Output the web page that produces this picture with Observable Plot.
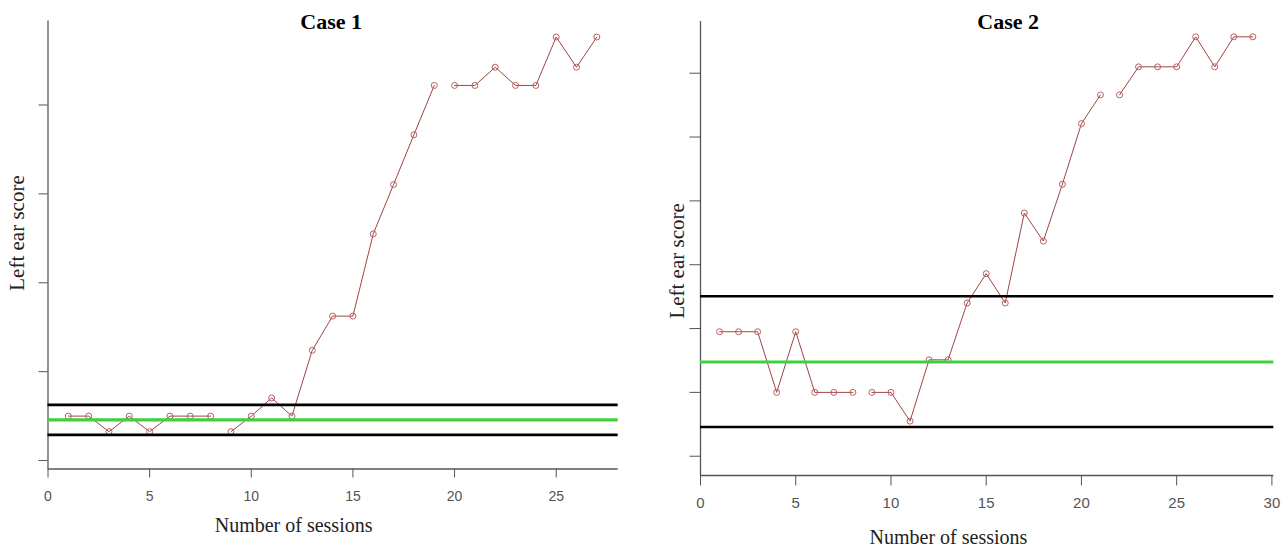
<!DOCTYPE html>
<html>
<head>
<meta charset="utf-8">
<script src="https://cdn.jsdelivr.net/npm/d3@7"></script>
<script src="https://cdn.jsdelivr.net/npm/@observablehq/plot@0.6"></script>
<style>
  html, body { margin: 0; padding: 0; background: #fff; }
  #wrap { display: flex; width: 1286px; height: 553px; overflow: hidden; }
  #wrap svg { display: block; }
</style>
</head>
<body>
<div id="wrap"></div>
<script>
// ---- Case 1 data ----
const case1Sessions = [1,2,3,4,5,6,7,8,9,10,11,12,13,14,15,16,17,18,19,20,21,22,23,24,25,26,27];
const case1Scores   = [10,10,6.5,10,6.5,10,10,10,6.5,10,14.1,10,24.8,32.5,32.5,51,62.1,73.3,84.4,84.4,84.4,88.5,84.4,84.4,95.3,88.5,95.3];
const case1Breaks   = [8, 19];          // the line is interrupted after these sessions
const case1Mean     = [9.16];
const case1Limits   = [12.53, 5.78];
const case1XTicks   = [0,5,10,15,20,25];
const case1YTicks   = [0,20,40,60,80];
const case1XDomain  = [0, 28.05];
const case1YDomain  = [-1.9, 98.9];

// ---- Case 2 data ----
const case2Sessions = [1,2,3,4,5,6,7,8,9,10,11,12,13,14,15,16,17,18,19,20,21,22,23,24,25,26,27,28,29];
const case2Scores   = [19.5,19.5,19.5,10,19.5,10,10,10,10,10,5.5,15.1,15.1,24,28.6,24,38.1,33.7,42.6,52.1,56.6,56.6,61,61,61,65.7,61,65.7,65.7];
const case2Breaks   = [8, 21];
const case2Mean     = [14.76];
const case2Limits   = [25.06, 4.58];
const case2XTicks   = [0,5,10,15,20,25,30];
const case2YTicks   = [0,10,20,30,40,50,60];
const case2XDomain  = [0, 30.1];
const case2YDomain  = [-3.02, 68.1];

const titles = ["Case 1", "Case 2"];
const xLabel = "Number of sessions";
const yLabel = "Left ear score";

function panel(o) {
  const rows = o.sessions.map((s, i) => ({
    session: s,
    score: o.scores[i],
    seg: o.breaks.filter(b => s > b).length
  }));
  return Plot.plot({
    width: o.width, height: 553,
    marginLeft: o.ml, marginRight: o.mr, marginTop: o.mt, marginBottom: o.mb,
    style: {fontFamily: "Liberation Sans, Arial, sans-serif", fontSize: o.tickFont + "px", color: "#555", background: "#fff"},
    x: {domain: o.xDomain, ticks: o.xTicks, tickSize: o.tick, tickPadding: o.xPad, label: null},
    y: {domain: o.yDomain, ticks: o.yTicks, tickSize: o.tick, tickFormat: () => "", label: null},
    marks: [
      Plot.ruleX([o.xDomain[0]], {stroke: "#555", strokeWidth: 1.3}),
      Plot.ruleY([o.yDomain[0]], {stroke: "#555", strokeWidth: 1.3}),
      Plot.line(rows, {x: "session", y: "score", z: "seg", stroke: "#a04444", strokeWidth: 1}),
      Plot.dot(rows, {x: "session", y: "score", r: 3, stroke: "#b86060", fill: "none", strokeWidth: 1}),
      Plot.ruleY(o.limits, {stroke: "#000", strokeWidth: 2.6}),
      Plot.ruleY(o.mean, {stroke: "#3fcf3f", strokeWidth: 3.2}),
      Plot.text([o.title], {frameAnchor: "top", lineAnchor: "bottom", textAnchor: "middle", dx: o.tdx, dy: o.tdy,
        fontFamily: "Liberation Serif, Times New Roman, serif", fontWeight: "bold", fontSize: 22, fill: "#000"}),
      Plot.text([xLabel], {frameAnchor: "bottom", lineAnchor: "bottom", textAnchor: "middle", dx: o.xldx, dy: o.xldy,
        fontFamily: "Liberation Serif, Times New Roman, serif", fontSize: 20, fill: "#222"}),
      Plot.text([yLabel], {frameAnchor: "left", lineAnchor: "bottom", textAnchor: "middle", rotate: -90, dx: o.yldx, dy: o.yldy,
        fontFamily: "Liberation Serif, Times New Roman, serif", fontSize: 21, fill: "#222"})
    ]
  });
}

const wrap = document.getElementById("wrap");
wrap.append(panel({
  width: 640, ml: 47.5, mr: 22.3, mt: 20.5, mb: 84.5,
  sessions: case1Sessions, scores: case1Scores, breaks: case1Breaks,
  mean: case1Mean, limits: case1Limits,
  xTicks: case1XTicks, yTicks: case1YTicks, xDomain: case1XDomain, yDomain: case1YDomain,
  tick: 9, xPad: 13.5, tickFont: 14,
  title: titles[0], tdx: -2, tdy: 7.5,
  xldx: -39.5, xldy: 62.5,
  yldx: -24.5, yldy: -12
}));
wrap.append(panel({
  width: 646, ml: 60, mr: 12.7, mt: 21, mb: 78,
  sessions: case2Sessions, scores: case2Scores, breaks: case2Breaks,
  mean: case2Mean, limits: case2Limits,
  xTicks: case2XTicks, yTicks: case2YTicks, xDomain: case2XDomain, yDomain: case2YDomain,
  tick: 10.5, xPad: 11.5, tickFont: 15,
  title: titles[1], tdx: 21, tdy: 7,
  xldx: -38.7, xldy: 68,
  yldx: -16.5, yldy: 12.4
}));
</script>
</body>
</html>
